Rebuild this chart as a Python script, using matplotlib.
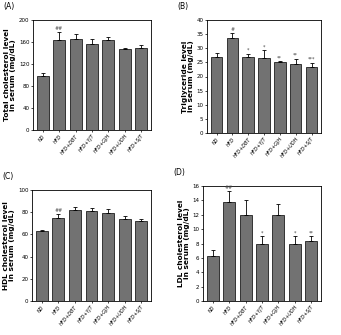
import numpy as np
import matplotlib
matplotlib.use("Agg")
import matplotlib.pyplot as plt

groups = ["ND", "HFD", "HFD+DBT", "HFD+YJT", "HFD+GJH", "HFD+UDH", "HFD+SJT"]

tc = [98, 163, 166, 156, 164, 147, 150]
tc_err = [5, 15, 8, 9, 5, 3, 5]
tc_sig = ["", "##", "", "", "", "", ""]

tg = [27.0, 33.5, 26.8, 26.5, 25.1, 24.4, 23.4]
tg_err = [1.2, 1.8, 1.2, 2.8, 0.3, 1.8, 1.5]
tg_sig = ["", "#", "*", "*", "**", "**", "***"]

hdl = [63, 75, 82, 81, 79.5, 73.5, 72.5]
hdl_err = [1, 3, 2.5, 3, 3, 3, 1.5]
hdl_sig = ["", "##", "", "", "", "", ""]

ldl = [6.3, 13.8, 12.0, 8.0, 12.0, 8.0, 8.4]
ldl_err = [0.8, 1.5, 2.1, 1.0, 1.5, 1.0, 0.6]
ldl_sig = ["", "##", "", "*", "", "*", "**"]

panels = [
    ("(A)", tc, tc_err, tc_sig, "Total cholesterol level\nin serum (mg/dL)", 200, 40, [33, 130, 151, 20]),
    ("(B)", tg, tg_err, tg_sig, "Triglyceride level\nin serum (mg/dL)", 40, 5, [207, 133, 321, 20]),
    ("(C)", hdl, hdl_err, hdl_sig, "HDL cholesterol level\nin serum (mg/dL)", 100, 20, [32, 301, 151, 190]),
    ("(D)", ldl, ldl_err, ldl_sig, "LDL cholesterol level\nin serum (mg/dL)", 16, 2, [203, 301, 321, 186]),
]

W, H = 341, 335
fig = plt.figure(figsize=(W / 100, H / 100), dpi=100)

x = np.arange(len(groups))
for label, vals, errs, sig, ylab, ymax, step, (l, b, r, t) in panels:
    ax = fig.add_axes([l / W, 1 - b / H, (r - l) / W, (b - t) / H])
    ax.bar(x, vals, width=0.72, color="#727272", edgecolor="black", linewidth=0.5,
           yerr=[np.zeros(len(errs)), errs], error_kw=dict(ecolor="black", elinewidth=0.6, capsize=1.5, capthick=0.6))
    for i, s in enumerate(sig):
        if s:
            ax.text(x[i], vals[i] + errs[i] + ymax * 0.01, s, ha="center", va="bottom",
                    fontsize=3.5, style="italic", color="#444444")
    ax.set_xlim(-0.6, len(groups) - 0.4)
    ax.set_ylim(0, ymax)
    ax.set_yticks(np.arange(0, ymax + step / 2, step))
    ax.tick_params(axis="y", labelsize=4, length=1.5, width=0.5, pad=1)
    ax.tick_params(axis="x", labelsize=3.5, length=1.5, width=0.5, pad=1)
    ax.set_xticks(x)
    ax.set_xticklabels(groups, rotation=50, ha="right", rotation_mode="anchor", style="italic")
    ax.set_ylabel(ylab, fontsize=5.3, fontweight="bold", labelpad=2, linespacing=1.0)
    for sp in ax.spines.values():
        sp.set_linewidth(0.6)
    fig.text((l - 30) / W, 1 - (t - 13) / H, label, fontsize=5.5, ha="left", va="center")

fig.savefig("out.png", dpi=100)
